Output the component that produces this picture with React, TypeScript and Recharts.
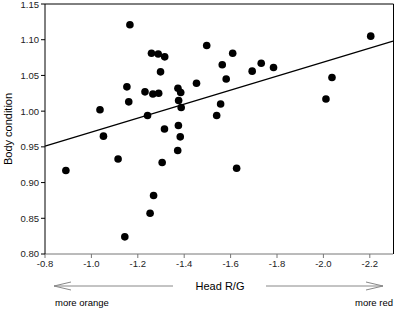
import React from "react";
import { ScatterChart, Scatter, XAxis, YAxis, ReferenceLine } from "recharts";

const headRG = [
  -0.89, -1.037, -1.052, -1.115, -1.144, -1.153, -1.161, -1.166, -1.231, -1.242,
  -1.253, -1.259, -1.265, -1.268, -1.288, -1.29, -1.298, -1.305, -1.315, -1.316,
  -1.372, -1.373, -1.375, -1.376, -1.383, -1.385, -1.387, -1.453, -1.497, -1.54,
  -1.557, -1.564, -1.581, -1.609, -1.626, -1.693, -1.732, -1.785, -2.011, -2.037,
  -2.204,
];
const bodyCondition = [
  0.917, 1.002, 0.965, 0.933, 0.824, 1.034, 1.013, 1.121, 1.027, 0.994,
  0.857, 1.081, 1.024, 0.882, 1.08, 1.025, 1.055, 0.928, 0.975, 1.076,
  0.945, 1.032, 0.98, 1.015, 0.964, 1.026, 1.005, 1.039, 1.092, 0.994,
  1.01, 1.065, 1.045, 1.081, 0.92, 1.056, 1.067, 1.061, 1.017, 1.047,
  1.105,
];
// regression line end points
const fitX = [-0.8, -2.3];
const fitY = [0.951, 1.098];

const xTicks = [-0.8, -1.0, -1.2, -1.4, -1.6, -1.8, -2.0, -2.2];
const yTicks = [0.8, 0.85, 0.9, 0.95, 1.0, 1.05, 1.1, 1.15];

const data = headRG.map((x, i) => ({ x, y: bodyCondition[i] }));

const font = "'Liberation Sans', Arial, sans-serif";
const tick = { fill: "#222", fontSize: 9.5, fontFamily: font };

const Dot = (p: any) => <circle cx={p.cx} cy={p.cy} r={3.8} fill="#000" />;

export default function App() {
  return (
    <div style={{ position: "absolute", left: 0, top: 0, width: 394, height: 310, background: "#fff" }}>
      <ScatterChart width={394} height={310} margin={{ top: 4, right: 1, left: 0, bottom: 36 }}>
        <XAxis
          type="number"
          dataKey="x"
          domain={[-2.3, -0.8]}
          reversed
          ticks={xTicks}
          tickFormatter={(v) => v.toFixed(1)}
          tick={tick}
          tickSize={4}
          height={20}
          stroke="#777"
          allowDataOverflow
        />
        <YAxis
          type="number"
          dataKey="y"
          domain={[0.8, 1.15]}
          ticks={yTicks}
          tickFormatter={(v) => v.toFixed(2)}
          tick={tick}
          tickSize={4}
          width={45}
          stroke="#000"
          allowDataOverflow
        />
        <ReferenceLine
          segment={[
            { x: fitX[0], y: fitY[0] },
            { x: fitX[1], y: fitY[1] },
          ]}
          stroke="#000"
          strokeWidth={1.2}
        />
        <Scatter data={data} shape={<Dot />} isAnimationActive={false} />
      </ScatterChart>
      <svg
        width={394}
        height={310}
        style={{ position: "absolute", left: 0, top: 0, pointerEvents: "none" }}
        fontFamily={font}
      >
        <line x1={45} y1={4} x2={393.5} y2={4} stroke="#000" />
        <line x1={393.5} y1={4} x2={393.5} y2={254} stroke="#000" />
        <text x={9} y={129} transform="rotate(-90 9 129)" textAnchor="middle" dominantBaseline="middle" fontSize={11} fill="#000">
          Body condition
        </text>
        <text x={220} y={290} textAnchor="middle" fontSize={11} fill="#000">Head R/G</text>
        <g stroke="#888" fill="none" strokeWidth={1}>
          <line x1={54} y1={286} x2={173} y2={286} />
          <polyline points="71,282 54,286 71,290" />
          <line x1={266} y1={286} x2={383} y2={286} />
          <polyline points="366,282 383,286 366,290" />
        </g>
        <text x={55} y={306} fontSize={9.5} fill="#000">more orange</text>
        <text x={393} y={306} textAnchor="end" fontSize={9.5} fill="#000">more red</text>
      </svg>
    </div>
  );
}
